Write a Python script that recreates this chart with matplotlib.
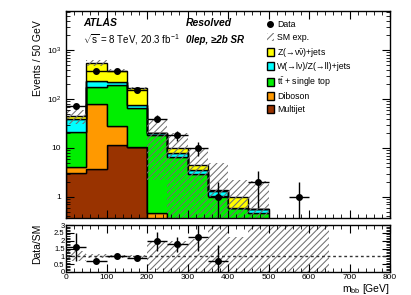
import numpy as np
import matplotlib
matplotlib.use("Agg")
import matplotlib.pyplot as plt
from matplotlib.patches import Patch
from matplotlib.lines import Line2D
from matplotlib.ticker import FuncFormatter, MultipleLocator, LogLocator, NullFormatter, FixedLocator

plt.rcParams['font.family'] = ['Liberation Sans', 'DejaVu Sans']
plt.rcParams['mathtext.fontset'] = 'custom'
plt.rcParams['mathtext.rm'] = 'Liberation Sans'
plt.rcParams['mathtext.it'] = 'Liberation Sans'
plt.rcParams['mathtext.bf'] = 'Liberation Sans:bold'
plt.rcParams['hatch.color'] = '#707070'
plt.rcParams['hatch.linewidth'] = 0.75

# m_bb bins, 50 GeV wide
edges = np.arange(0, 850, 50)

# SM backgrounds, bins 0-500 GeV
multijet = np.array([3.1, 3.7, 11.5, 10.3, 0, 0, 0, 0, 0, 0])
diboson = np.array([0.9, 77, 17, 0.3, 0.46, 0, 0, 0, 0, 0])
ttbar = np.array([17.5, 97, 164, 54, 18, 6.6, 3.0, 1.05, 0.59, 0.46])
wz_jets = np.array([18.5, 57, 32.5, 10.4, 1.5, 1.2, 0.55, 0.3, 0.01, 0.1])
znn_jets = np.array([5, 315, 155, 90, 0.3, 2.3, 0.95, 0.05, 0.39, 0.01])

# SM uncertainty, bins 0-650 GeV
sm_unc = np.array([14, 70, 30, 15, 18, 10, 5, 3.5, 1.2, 1.5, 0.3, 0.3, 0.3])

# data counts, bins 0-600 GeV
data = np.array([72, 373, 380, 152, 40, 18, 10, 1, 0, 2, 0, 1])

# Data/SM error bars as drawn (bins 0-400 GeV)
ratio_err = np.array([0.92, 0.06, 0.12, 0.15, 0.6, 0.48, 0.9, 1.0])

components = [
    (multijet, '#993300', 'Multijet'),
    (diboson, '#ff9900', 'Diboson'),
    (ttbar, '#00ee00', r'$\mathrm{t\bar{t}}$ + single top'),
    (wz_jets, '#00ffff', 'W(\u2192l\u03bd)/Z(\u2192ll)+jets'),
    (znn_jets, '#ffff00', 'Z(\u2192\u03bd' + r'$\bar{\nu}$' + ')+jets'),
]

HATCH = '/////'

fig = plt.figure(figsize=(4.11, 2.95), dpi=100)
ax = fig.add_axes([0.1606, 0.261, 0.7884, 0.7017])
axr = fig.add_axes([0.1606, 0.078, 0.7884, 0.159])

nmc = len(multijet)
base = np.zeros(nmc)
for vals, col, lab in components:
    ax.stairs(base + vals, edges[:nmc + 1], baseline=base.copy(), fill=True,
              facecolor=col, edgecolor='black', linewidth=1.0)
    base = base + vals
total = base

nunc = len(sm_unc)
total_ext = np.concatenate([total, np.zeros(nunc - nmc)])
ax.stairs(total_ext + sm_unc, edges[:nunc + 1],
          baseline=np.maximum(total_ext - sm_unc, 1e-3), fill=True,
          facecolor='none', edgecolor='#707070', linewidth=0, hatch=HATCH)

centers = 0.5 * (edges[:-1] + edges[1:])
nd = len(data)
m = data > 0
ax.errorbar(centers[:nd][m], data[m], xerr=25, yerr=np.sqrt(data[m]),
            fmt='o', color='black', ms=4, elinewidth=1, capsize=0)

ax.set_yscale('log')
ax.set_xlim(0, 800)
ax.set_ylim(0.37, 6300)
ax.yaxis.set_major_locator(LogLocator(base=10, numticks=10))
ax.yaxis.set_minor_locator(LogLocator(base=10, subs=np.arange(2, 10), numticks=10))
ax.yaxis.set_minor_formatter(NullFormatter())


def fmt_log(v, pos):
    if v == 1:
        return '1'
    if v == 10:
        return '10'
    return r'$10^{%d}$' % int(round(np.log10(v)))


ax.yaxis.set_major_formatter(FuncFormatter(fmt_log))
ax.xaxis.set_major_locator(MultipleLocator(100))
ax.xaxis.set_minor_locator(MultipleLocator(20))
ax.tick_params(axis='x', labelbottom=False)
for a in (ax, axr):
    a.tick_params(which='both', direction='in', top=True, right=True, labelsize=6)
    a.tick_params(which='major', length=6, width=0.8)
    a.tick_params(which='minor', length=3, width=0.6)
    for s in a.spines.values():
        s.set_linewidth(1.0)

ax.set_ylabel('Events / 50 GeV', fontsize=7.5, loc='top')
ax.yaxis.set_label_coords(-0.071, 0.957)

ax.text(0.052, 0.942, 'ATLAS', transform=ax.transAxes, fontsize=7.5,
        fontweight='bold', style='italic', va='center')
ax.text(0.37, 0.942, 'Resolved', transform=ax.transAxes, fontsize=7.5,
        fontweight='bold', style='italic', va='center')
ax.text(0.052, 0.86, r'$\sqrt{s}$ = 8 TeV, 20.3 fb$^{-1}$', transform=ax.transAxes,
        fontsize=7, va='center')
ax.text(0.37, 0.86, '0lep, \u22652b SR', transform=ax.transAxes, fontsize=7,
        fontweight='bold', style='italic', va='center')

handles = [Line2D([], [], marker='o', color='black', ls='none', ms=4),
           Patch(facecolor='none', edgecolor='#707070', linewidth=0, hatch=HATCH)]
labels = ['Data', 'SM exp.']
for vals, col, lab in components[::-1]:
    handles.append(Patch(facecolor=col, edgecolor='black', linewidth=1.0))
    labels.append(lab)
ax.legend(handles, labels, loc='upper left', bbox_to_anchor=(0.6, 0.985),
          frameon=False, fontsize=6.3, handlelength=0.9, handleheight=1.0,
          handletextpad=0.3, labelspacing=0.42, borderpad=0.2)

# ratio panel
rel = np.divide(sm_unc, total_ext, out=np.full(nunc, 10.0), where=total_ext > 0)
axr.stairs(np.minimum(1 + rel, 3.5), edges[:nunc + 1],
           baseline=np.maximum(1 - rel, 0), fill=True, facecolor='none',
           edgecolor='#707070', linewidth=0, hatch=HATCH)
axr.axhline(1, color='#333333', lw=1, ls=(0, (2, 2)))
nr = len(ratio_err)
ratio = data[:nr] / total[:nr]
axr.errorbar(centers[:nr], ratio, xerr=25, yerr=ratio_err, fmt='o', color='black',
             ms=4, elinewidth=1, capsize=0)
axr.set_xlim(0, 800)
axr.set_ylim(0, 3)
axr.yaxis.set_major_locator(FixedLocator([0, 0.5, 1, 1.5, 2, 2.5, 3]))
axr.yaxis.set_minor_locator(MultipleLocator(0.1))
axr.yaxis.set_major_formatter(FuncFormatter(lambda v, p: '%g' % v))
axr.xaxis.set_major_locator(MultipleLocator(100))
axr.xaxis.set_minor_locator(MultipleLocator(20))
axr.tick_params(axis='x', pad=1.5)
axr.tick_params(axis='y', labelsize=5.5, pad=1)
axr.set_ylabel('Data/SM', fontsize=7.5)
axr.yaxis.set_label_coords(-0.074, 0.6)
axr.set_xlabel(r'm$_{\mathrm{bb}}$ [GeV]', fontsize=7.5, loc='right', labelpad=1)

fig.savefig('out.png', dpi=100)
